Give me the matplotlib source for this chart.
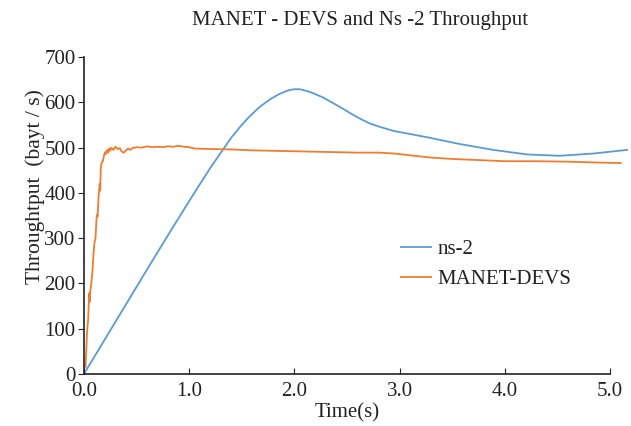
import matplotlib
matplotlib.use('Agg')
import matplotlib.pyplot as plt

# ns-2 throughput
t_ns2 = [0, 0.2, 0.4, 0.6, 0.8, 1.0, 1.12, 1.2, 1.31, 1.4, 1.48, 1.57, 1.67, 1.77,
         1.86, 1.95, 2.0, 2.05, 2.12, 2.18, 2.27, 2.37, 2.46, 2.56, 2.64, 2.72,
         2.81, 2.94, 3.26, 3.57, 3.89, 4.21, 4.52, 4.84, 5.16]
v_ns2 = [0, 77, 154, 231, 307, 382, 426, 455, 492, 522, 545, 568, 590, 607,
         619, 627, 629, 629, 625, 620, 611, 598, 586, 572, 562, 553,
         546, 537, 523, 508, 495, 485, 482, 487, 495]

# MANET-DEVS throughput
t_devs = [0.015, 0.02, 0.03, 0.04, 0.05, 0.055, 0.06, 0.07, 0.08, 0.09, 0.10, 0.11,
          0.12, 0.125, 0.13, 0.14, 0.15, 0.155, 0.16, 0.17, 0.18, 0.19, 0.20, 0.21,
          0.22, 0.23, 0.24, 0.25, 0.26, 0.28, 0.30, 0.32, 0.34, 0.36, 0.38, 0.40,
          0.42, 0.44, 0.46, 0.50, 0.55, 0.60, 0.65, 0.70, 0.75, 0.80, 0.85, 0.90,
          0.95, 1.00, 1.05, 1.2, 1.4, 1.6, 1.8, 2.0, 2.2, 2.4, 2.6, 2.8, 2.95, 3.1,
          3.3, 3.5, 3.8, 4.0, 4.3, 4.6, 4.9, 5.1]
v_devs = [15, 40, 95, 120, 178, 160, 182, 200, 225, 262, 290, 300,
          345, 352, 348, 395, 420, 405, 455, 468, 470, 482, 490, 486,
          495, 489, 498, 493, 500, 495, 502, 497, 499, 491, 489, 494,
          498, 495, 499, 501, 500, 503, 501, 502, 501, 503, 502, 504,
          502, 501, 498, 497, 496, 494, 493, 492, 491, 490, 489, 489, 487, 483,
          478, 475, 472, 470, 470, 469, 467, 466]

plt.rcParams['font.family'] = ['Liberation Serif', 'DejaVu Serif']

fig = plt.figure(figsize=(6.31, 4.26), dpi=100)
ax = fig.add_axes([0.133, 0.122, 0.834, 0.744])

ax.plot(t_ns2, v_ns2, color='#5B9BD5', lw=1.3, label='ns-2', clip_on=False)
ax.plot(t_devs, v_devs, color='#ED7D31', lw=1.3, label='MANET-DEVS', clip_on=False)

ax.set_xlim(0, 5.0)
ax.set_ylim(0, 700)
ax.set_xticks([0, 1, 2, 3, 4, 5])
ax.set_xticklabels(['0.0', '1.0', '2.0', '3.0', '4.0', '5.0'])
ax.set_yticks(range(0, 701, 100))

for s in ['top', 'right']:
    ax.spines[s].set_visible(False)
for s in ['left', 'bottom']:
    ax.spines[s].set_color('#222222')
    ax.spines[s].set_linewidth(1.2)

ax.tick_params(axis='x', direction='in', length=4, labelsize=15, colors='#222222', pad=6)
ax.tick_params(axis='y', direction='out', length=4, labelsize=15, colors='#222222', pad=2)

ax.set_xlabel('Time(s)', fontsize=15, color='#222222', labelpad=1)
ax.set_ylabel('Throughtput  (bayt / s)', fontsize=15.5, color='#222222')
ax.yaxis.set_label_coords(-0.074, 0.593)
fig.text(0.57, 0.953, 'MANET - DEVS and Ns -2 Throughput', ha='center', va='center',
         fontsize=15, color='#222222')

leg = ax.legend(loc='upper left', bbox_to_anchor=(0.567, 0.483), frameon=False,
                fontsize=15, handlelength=1.45, handletextpad=0.3, labelspacing=0.5)
for t in leg.get_texts():
    t.set_color('#222222')

fig.savefig('out.png', dpi=100)
